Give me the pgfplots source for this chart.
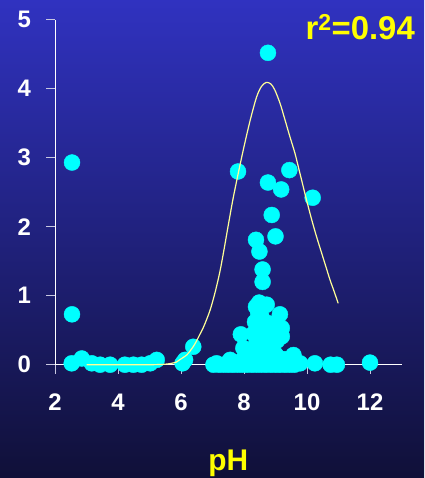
\documentclass[border=0pt]{standalone}
\usepackage{pgfplots}
\pgfplotsset{compat=1.18}
\usepackage{fontspec}
\setmainfont{Liberation Sans}

\definecolor{bgtop}{RGB}{48,50,192}
\definecolor{bgmid}{RGB}{34,34,130}
\definecolor{bgbot}{RGB}{16,16,56}
\definecolor{dotcyan}{RGB}{0,255,255}
\definecolor{fitline}{RGB}{255,255,150}
\definecolor{labyellow}{RGB}{255,255,0}
\definecolor{tickgray}{RGB}{200,200,225}

\begin{document}
\begin{tikzpicture}[x=1bp,y=1bp]
% background panel
\shade[top color=bgtop, middle color=bgmid, bottom color=bgbot] (-55,-113.3) rectangle (369,364.7);

\begin{axis}[
  at={(0,0)}, anchor=south west,
  scale only axis, width=346.5bp, height=345bp,
  xmin=2, xmax=13, ymin=0, ymax=5,
  axis lines*=left,
  axis line style={white, line width=1bp},
  tick style={color=tickgray, line width=1bp},
  tick align=outside, major tick length=9bp,
  xtick={2,4,6,8,10,12}, ytick={0,1,2,3,4,5},
  ticklabel style={font=\bfseries\fontsize{24}{24}\selectfont, text=white},
  /pgf/number format/assume math mode=true,
  yticklabel style={inner sep=0pt, anchor=east, xshift=-15bp},
  xticklabel style={inner sep=0pt, anchor=north, yshift=-20bp},
  xlabel={pH},
  x label style={at={(axis description cs:0.5,-0.285)}, anchor=center,
    font=\bfseries\fontsize{30}{30}\selectfont, text=labyellow},
  clip=false, clip mode=individual,
]
% observations
\addplot[only marks, mark=*, mark size=8bp, color=dotcyan] coordinates {
  (2.54,2.93) (2.54,0.73) (8.76,4.52) (7.81,2.80) (8.76,2.64) (9.44,2.82)
  (9.18,2.54) (10.18,2.42) (8.88,2.17) (9.00,1.86) (8.38,1.81) (8.49,1.64)
  (8.59,1.38) (8.59,1.20)
  (8.38,0.84) (8.72,0.87) (8.48,0.90) (9.14,0.73) (8.35,0.62) (8.55,0.70)
  (9.20,0.53) (9.20,0.41) (7.90,0.44) (7.98,0.24) (8.40,0.33) (8.72,0.45)
  (8.90,0.26) (8.60,0.12) (9.57,0.14) (8.50,0.50) (8.80,0.60) (8.65,0.30)
  (9.00,0.15) (8.30,0.15) (8.45,0.75) (8.60,0.55) (8.75,0.35) (8.50,0.20)
  (8.85,0.50) (9.05,0.35) (8.30,0.45) (8.70,0.15) (9.10,0.10) (8.20,0.08)
  (9.30,0.08) (9.50,0.05) (7.90,0.05) (8.05,0.10)
  (7.56,0.07) (7.13,0.02) (6.39,0.26) (6.13,0.07) (6.05,0.02)
  (2.53,0.02) (2.85,0.09) (3.17,0.02) (3.43,0.00) (3.75,0.00) (4.22,0.00)
  (4.49,0.00) (4.75,0.00) (5.02,0.02) (5.23,0.07)
  (7.03,0.00) (7.20,0.00) (7.35,0.00) (7.50,0.00) (7.65,0.00) (7.80,0.00)
  (7.95,0.00) (8.10,0.00) (8.25,0.00) (8.40,0.00) (8.55,0.00) (8.70,0.00)
  (8.85,0.00) (9.00,0.00) (9.15,0.00) (9.30,0.00) (9.45,0.00) (9.60,0.00)
  (9.78,0.02) (10.25,0.02) (10.75,0.00) (10.95,0.00) (12.00,0.03)
};
% fitted peak curve, drawn over the points
\addplot[smooth, color=fitline, line width=1.2bp, mark=none] coordinates {
  (3.0,0) (4.0,0) (5.0,0) (5.45,0.005) (5.7,0.02) (5.86,0.04) (5.97,0.075)
  (6.18,0.14) (6.29,0.20) (6.4,0.27) (6.5,0.35) (6.6,0.44) (6.7,0.53)
  (6.8,0.64) (6.9,0.76) (6.97,0.86) (7.1,1.08) (7.24,1.36) (7.37,1.68)
  (7.5,2.02) (7.65,2.40) (7.82,2.78) (8.0,3.16) (8.2,3.55) (8.4,3.88)
  (8.55,4.03) (8.7,4.09) (8.85,4.07) (8.98,3.98) (9.15,3.78) (9.3,3.55)
  (9.46,3.30) (9.62,3.06) (9.75,2.82) (9.88,2.58) (10.0,2.36) (10.15,2.10)
  (10.3,1.86) (10.47,1.61) (10.6,1.42) (10.73,1.23) (10.87,1.05) (10.99,0.89)
};
\end{axis}

\node[anchor=base east, inner sep=0pt, text=labyellow,
  font=\bfseries\fontsize{33}{33}\selectfont] at (360,324.7) {r\textsuperscript{2}=0.94};

\pgfresetboundingbox
\useasboundingbox (-55,-113.3) rectangle (369,364.7);
\end{tikzpicture}
\end{document}
